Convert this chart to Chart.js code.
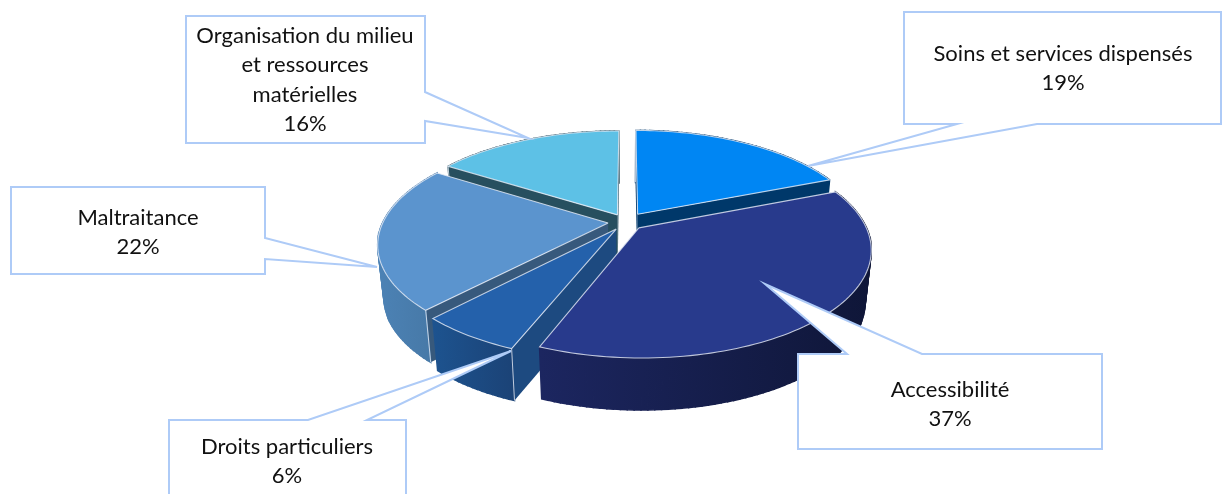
<!DOCTYPE html>
<html lang="fr">
<head>
<meta charset="utf-8">
<title>Répartition des plaintes</title>
<script src="https://cdn.jsdelivr.net/npm/chart.js@4/dist/chart.umd.min.js"></script>
<style>
  html, body { margin: 0; padding: 0; background: #fff; }
  canvas { display: block; }
</style>
</head>
<body>
<canvas id="pie" width="1222" height="494"></canvas>
<script>
// Chart values
const categories = [
  'Soins et services dispensés',
  'Accessibilité',
  'Droits particuliers',
  'Maltraitance',
  'Organisation du milieu et ressources matérielles'
];
const shares = [19, 37, 6, 22, 16];

// Slice styling, in the same order as the categories
const sliceOffsets = [21, 18, 18, 18, 18];
const topColors = ['#0086F3', '#283A8C', '#2461AB', '#5B94CE', '#5DC1E6'];
const radialWallColors = ['#00386A', '#1A2660', '#1D4A80', '#37597C', '#274F5F'];
const outerWallFrom = ['#00386A', '#1C2660', '#1D538F', '#4C82B5', '#274F5F'];
const outerWallTo = ['#00386A', '#0F1638', '#1B4377', '#4678A6', '#274F5F'];
const paintOrder = [4, 0, 3, 2, 1];

// Tilted-disc view: perspective strength, vertical radius ratio, wall height
const view = { k: 0.192, ryRatio: 0.456, depth: 52, bottomScale: 0.975 };
const edgeColor = 'rgba(232,238,248,0.8)';

// Callout frames: box, pointer base on one side of the box, pointer tip, text lines
const frameColor = '#AECBF7';
const callouts = [
  { index: 0, box: [904, 12, 1221, 124], side: 'bottom', base: [957, 1037], tip: [808, 166], lines: ['Soins et services dispensés'], cx: 1063, y: 54 },
  { index: 1, box: [798, 354, 1102, 449], side: 'top', base: [847, 922], tip: [765, 284], lines: ['Accessibilité'], cx: 950, y: 390 },
  { index: 2, box: [169, 420, 406, 520], side: 'top', base: [308, 367], tip: [511, 351], lines: ['Droits particuliers'], cx: 287, y: 447 },
  { index: 3, box: [11, 187, 265, 274], side: 'right', base: [238, 259], tip: [377, 267], lines: ['Maltraitance'], cx: 138, y: 218 },
  { index: 4, box: [186, 16, 425, 143], side: 'right', base: [92, 121], tip: [528, 138], lines: ['Organisation du milieu', 'et ressources', 'matérielles'], cx: 305, y: 36 }
];

// Projects a point of the slice's flat disc (unit radius) on to the tilted view
function project(arc, u, v) {
  const r = arc.outerRadius;
  const s = 1 / (1 - view.k * v);
  return { x: arc.x + r * u * s, y: arc.y + r * view.ryRatio * v * s };
}

function lower(p, cx) {
  return { x: cx + (p.x - cx) * view.bottomScale, y: p.y + view.depth };
}

// Outline of a slice: apex, then points along its rim, all from the arc element's angles
function sliceGeometry(arc) {
  const { startAngle, endAngle, outerRadius, options } = arc;
  const mid = (startAngle + endAngle) / 2;
  const shift = (options.offset || 0) / outerRadius;
  const ox = Math.cos(mid) * shift;
  const oy = Math.sin(mid) * shift;
  const apex = project(arc, ox, oy);
  const rim = [];
  const steps = Math.max(8, Math.ceil((endAngle - startAngle) * 40));
  for (let i = 0; i <= steps; i++) {
    const a = startAngle + (endAngle - startAngle) * i / steps;
    rim.push(project(arc, ox + Math.cos(a), oy + Math.sin(a)));
  }
  return { apex, rim };
}

function fillPoly(ctx, pts, fill) {
  ctx.beginPath();
  pts.forEach((p, i) => (i ? ctx.lineTo(p.x, p.y) : ctx.moveTo(p.x, p.y)));
  ctx.closePath();
  ctx.fillStyle = fill;
  ctx.fill();
}

function strokeLine(ctx, pts, color, width) {
  ctx.beginPath();
  pts.forEach((p, i) => (i ? ctx.lineTo(p.x, p.y) : ctx.moveTo(p.x, p.y)));
  ctx.strokeStyle = color;
  ctx.lineWidth = width;
  ctx.stroke();
}

function drawSlice(ctx, arc, i, cx) {
  const { apex, rim } = sliceGeometry(arc);
  const first = rim[0];
  const last = rim[rim.length - 1];
  const low = (p) => lower(p, cx);

  // Cut faces that turn towards the viewer
  if (first.x < apex.x) {
    fillPoly(ctx, [apex, first, low(first), low(apex)], radialWallColors[i]);
  }
  if (last.x > apex.x + 1) {
    fillPoly(ctx, [apex, last, low(last), low(apex)], radialWallColors[i]);
  }

  // Curved outer wall, built from narrow panels so its silhouette stays smooth
  const xs = rim.map((p) => p.x);
  const grad = ctx.createLinearGradient(Math.min(...xs), 0, Math.max(...xs), 0);
  grad.addColorStop(0, outerWallFrom[i]);
  grad.addColorStop(1, outerWallTo[i]);
  for (let n = 0; n < rim.length - 1; n++) {
    fillPoly(ctx, [rim[n], rim[n + 1], low(rim[n + 1]), low(rim[n])], grad);
    ctx.strokeStyle = grad;
    ctx.lineWidth = 1.5;
    ctx.stroke();
  }

  // Top face with a thin bevel along its edges
  const outline = [apex].concat(rim);
  fillPoly(ctx, outline, topColors[i]);
  strokeLine(ctx, outline.concat([apex]), edgeColor, 1.1);

  // Vertical corner highlight
  if (first.x < apex.x) {
    strokeLine(ctx, [first, low(first)], edgeColor, 1);
  }
}

function drawCallout(ctx, c, value) {
  const [x0, y0, x1, y1] = c.box;
  const [b0, b1] = c.base;
  const t = c.tip;
  ctx.beginPath();
  ctx.moveTo(x0, y0);
  if (c.side === 'top') { ctx.lineTo(b0, y0); ctx.lineTo(t[0], t[1]); ctx.lineTo(b1, y0); }
  ctx.lineTo(x1, y0);
  if (c.side === 'right') { ctx.lineTo(x1, b0); ctx.lineTo(t[0], t[1]); ctx.lineTo(x1, b1); }
  ctx.lineTo(x1, y1);
  if (c.side === 'bottom') { ctx.lineTo(b1, y1); ctx.lineTo(t[0], t[1]); ctx.lineTo(b0, y1); }
  ctx.lineTo(x0, y1);
  ctx.closePath();
  ctx.fillStyle = '#fff';
  ctx.fill();
  ctx.strokeStyle = frameColor;
  ctx.lineWidth = 2;
  ctx.lineJoin = 'miter';
  ctx.stroke();

  ctx.fillStyle = '#111';
  ctx.font = '22px Lato, sans-serif';
  ctx.textAlign = 'center';
  ctx.textBaseline = 'middle';
  c.lines.concat([value + '%']).forEach((line, n) => {
    ctx.fillText(line, c.cx, c.y + n * 29.3);
  });
}

// Paints the pie as a raised, tilted disc in place of the flat default arcs
const tiltedPie = {
  id: 'tiltedPie',
  beforeDatasetsDraw(chart) {
    const ctx = chart.ctx;
    const arcs = chart.getDatasetMeta(0).data;
    const cx = arcs[0].x;
    ctx.save();
    paintOrder.forEach((i) => drawSlice(ctx, arcs[i], i, cx));
    ctx.restore();
    return false;
  },
  afterDraw(chart) {
    const ctx = chart.ctx;
    const values = chart.data.datasets[0].data;
    ctx.save();
    callouts.forEach((c) => drawCallout(ctx, c, values[c.index]));
    ctx.restore();
  }
};

new Chart(document.getElementById('pie'), {
  type: 'pie',
  data: {
    labels: categories,
    datasets: [{ data: shares, backgroundColor: topColors, borderWidth: 0, offset: sliceOffsets }]
  },
  options: {
    responsive: false,
    animation: false,
    radius: 225,
    layout: { padding: { left: 30, right: 0, top: 0, bottom: 50 } },
    plugins: { legend: { display: false }, tooltip: { enabled: false } }
  },
  plugins: [tiltedPie]
});
</script>
</body>
</html>
